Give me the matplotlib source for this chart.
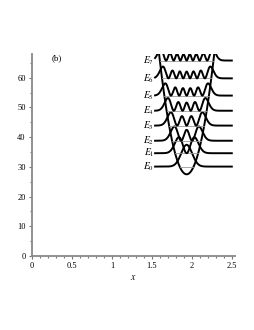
import numpy as np
import matplotlib
matplotlib.use("Agg")
import matplotlib.pyplot as plt

# energy levels
levels = [30.1, 34.6, 38.8, 43.9, 48.9, 54.0, 59.8, 65.8]
level_names = ["$E_{%d}$" % n for n in range(len(levels))]

# potential well: bottom, centre, curvature, top cut
v0 = 27.5
x0 = 1.935
k = 340.0
v_top = 68.3

# wave function width and plot scale
s = 0.097
amp = 13.0
x_start = 1.54
x_end = 2.5

xticks = [0, 0.5, 1, 1.5, 2, 2.5]
xtick_labels = ["0", "0.5", "1", "1.5", "2", "2.5"]
yticks = [0, 10, 20, 30, 40, 50, 60]

plt.rcParams['font.family'] = ['Liberation Serif', 'DejaVu Serif']
plt.rcParams['mathtext.fontset'] = 'stix'

def hermite_funcs(xi, nmax):
    out = [np.pi ** -0.25 * np.exp(-xi ** 2 / 2)]
    out.append(np.sqrt(2.0) * xi * out[0])
    for n in range(1, nmax):
        out.append(np.sqrt(2.0 / (n + 1)) * xi * out[n] - np.sqrt(n / (n + 1.0)) * out[n - 1])
    return out

fig = plt.figure(figsize=(2.55, 3.30), dpi=100)
ax = fig.add_axes([32 / 255, 1 - 256 / 330, 203 / 255, 202 / 330])

x = np.linspace(x_start, x_end, 800)
psis = hermite_funcs((x - x0) / s, len(levels))

half = np.sqrt((v_top - v0) / k)
xp = np.linspace(x0 - half, x0 + half, 400)
ax.plot(xp, v0 + k * (xp - x0) ** 2, color='black', lw=1.4)

for n, e in enumerate(levels):
    w = np.sqrt((e - v0) / k)
    ax.plot([x0 - w, x0 + w], [e, e], color='#999999', lw=0.6)
    ax.plot(x, e + amp * psis[n] ** 2, color='black', lw=1.4)
    ax.text(x_start - 0.01, e, level_names[n], fontsize=7, ha='right', va='center')

ax.text(0.31, 66.5, "(b)", fontsize=6.5, ha='center', va='center')

ax.set_xlim(0, 2.54)
ax.set_ylim(0, 68)
ax.set_xticks(xticks)
ax.set_xticklabels(xtick_labels)
ax.set_yticks(yticks)
ax.set_xticks(np.arange(0, 2.55, 0.1), minor=True)
ax.set_yticks(np.arange(0, 68, 5), minor=True)
ax.tick_params(labelsize=6, length=2.5, width=0.8, color='#777777', pad=2)
ax.tick_params(which='minor', length=1.5, width=0.8, color='#777777')
for side in ['top', 'right']:
    ax.spines[side].set_visible(False)
for side in ['left', 'bottom']:
    ax.spines[side].set_color('#888888')
    ax.spines[side].set_linewidth(1.3)
ax.set_xlabel("$x$", fontsize=7, labelpad=2)

fig.savefig("out.png", dpi=100)
